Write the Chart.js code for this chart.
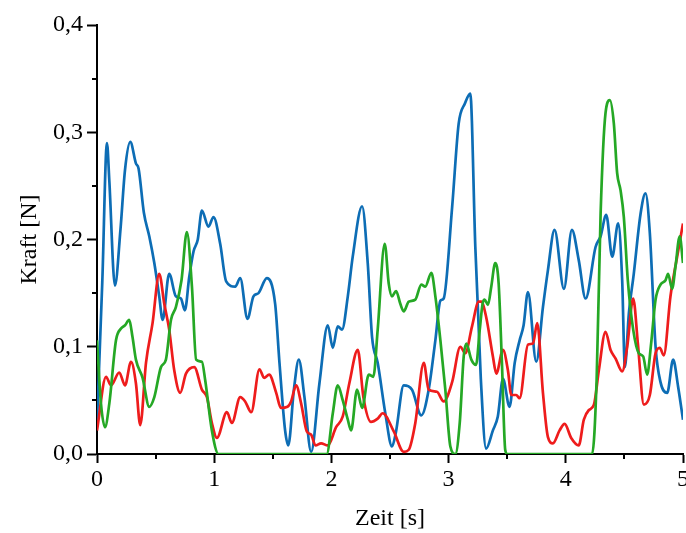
<!DOCTYPE html>
<html>
<head>
<meta charset="utf-8">
<script src="https://cdn.jsdelivr.net/npm/chart.js@4"></script>
<style>
  html, body { margin: 0; padding: 0; background: #fff; overflow: hidden; }
  #wrap { width: 686px; height: 533px; overflow: hidden; }
</style>
</head>
<body>
<div id="wrap"><canvas id="chart" width="700" height="533"></canvas></div>
<script>
// Zeit [s] / Kraft [N]
const blueTime = [0, 0.045, 0.085, 0.105, 0.153, 0.2, 0.239, 0.284, 0.332, 0.355, 0.4, 0.446, 0.489, 0.531, 0.56, 0.616, 0.673, 0.716, 0.75, 0.787, 0.824, 0.86, 0.895, 0.951, 0.994, 1.051, 1.102, 1.179, 1.222, 1.284, 1.335, 1.378, 1.449, 1.52, 1.557, 1.605, 1.632, 1.68, 1.722, 1.77, 1.827, 1.898, 1.969, 2.012, 2.054, 2.091, 2.14, 2.182, 2.262, 2.31, 2.347, 2.395, 2.46, 2.517, 2.55, 2.617, 2.688, 2.767, 2.83, 2.887, 2.93, 2.958, 3.03, 3.086, 3.14, 3.185, 3.228, 3.275, 3.32, 3.378, 3.42, 3.464, 3.52, 3.564, 3.606, 3.64, 3.677, 3.748, 3.805, 3.847, 3.904, 3.984, 4.052, 4.11, 4.169, 4.254, 4.297, 4.345, 4.396, 4.447, 4.481, 4.504, 4.538, 4.58, 4.638, 4.68, 4.717, 4.766, 4.808, 4.865, 4.916, 4.958, 5.0];
const blueForce = [0.030, 0.16, 0.290, 0.255, 0.157, 0.209, 0.265, 0.291, 0.271, 0.266, 0.225, 0.203, 0.178, 0.147, 0.125, 0.168, 0.147, 0.145, 0.134, 0.165, 0.189, 0.2, 0.227, 0.212, 0.221, 0.196, 0.161, 0.156, 0.164, 0.126, 0.147, 0.150, 0.164, 0.140, 0.085, 0.022, 0.008, 0.06, 0.088, 0.053, 0.002, 0.066, 0.120, 0.099, 0.119, 0.116, 0.147, 0.184, 0.231, 0.178, 0.109, 0.085, 0.038, 0.007, 0.02, 0.064, 0.060, 0.036, 0.060, 0.106, 0.143, 0.145, 0.230, 0.308, 0.327, 0.336, 0.193, 0.07, 0.005, 0.022, 0.035, 0.070, 0.044, 0.085, 0.106, 0.12, 0.151, 0.086, 0.137, 0.171, 0.209, 0.154, 0.209, 0.181, 0.145, 0.193, 0.203, 0.223, 0.184, 0.215, 0.162, 0.081, 0.131, 0.168, 0.224, 0.243, 0.206, 0.100, 0.067, 0.057, 0.088, 0.063, 0.032];

const redTime = [0, 0.077, 0.119, 0.19, 0.239, 0.29, 0.332, 0.369, 0.418, 0.474, 0.531, 0.574, 0.616, 0.659, 0.71, 0.759, 0.83, 0.895, 0.938, 0.98, 1.023, 1.108, 1.151, 1.222, 1.264, 1.316, 1.386, 1.426, 1.469, 1.529, 1.569, 1.625, 1.656, 1.699, 1.742, 1.79, 1.827, 1.864, 1.912, 1.969, 2.04, 2.097, 2.153, 2.225, 2.273, 2.338, 2.395, 2.438, 2.532, 2.617, 2.66, 2.716, 2.788, 2.83, 2.9, 2.958, 3.03, 3.1, 3.142, 3.2, 3.257, 3.279, 3.32, 3.378, 3.407, 3.464, 3.506, 3.535, 3.577, 3.606, 3.677, 3.72, 3.756, 3.805, 3.847, 3.89, 3.947, 3.99, 4.046, 4.11, 4.154, 4.197, 4.24, 4.282, 4.339, 4.382, 4.425, 4.481, 4.524, 4.575, 4.615, 4.666, 4.717, 4.766, 4.802, 4.836, 4.893, 4.95, 5.0];
const redForce = [0.022, 0.072, 0.064, 0.076, 0.064, 0.086, 0.066, 0.027, 0.085, 0.122, 0.168, 0.140, 0.116, 0.078, 0.057, 0.075, 0.081, 0.060, 0.053, 0.029, 0.015, 0.039, 0.029, 0.053, 0.049, 0.039, 0.079, 0.071, 0.074, 0.057, 0.043, 0.044, 0.049, 0.064, 0.047, 0.021, 0.018, 0.008, 0.010, 0.008, 0.025, 0.035, 0.066, 0.097, 0.053, 0.030, 0.033, 0.038, 0.021, 0.002, 0.004, 0.029, 0.085, 0.060, 0.058, 0.049, 0.067, 0.100, 0.094, 0.119, 0.142, 0.142, 0.128, 0.091, 0.075, 0.097, 0.078, 0.055, 0.055, 0.052, 0.102, 0.103, 0.122, 0.057, 0.016, 0.010, 0.022, 0.028, 0.015, 0.008, 0.032, 0.041, 0.046, 0.078, 0.114, 0.097, 0.089, 0.077, 0.100, 0.145, 0.103, 0.046, 0.055, 0.094, 0.099, 0.092, 0.147, 0.184, 0.215];

const greenTime = [0, 0.034, 0.068, 0.105, 0.162, 0.205, 0.239, 0.275, 0.303, 0.332, 0.389, 0.446, 0.489, 0.546, 0.588, 0.631, 0.673, 0.721, 0.767, 0.81, 0.846, 0.895, 0.923, 0.98, 1.037, 1.5, 1.96, 2.012, 2.054, 2.097, 2.14, 2.168, 2.219, 2.262, 2.319, 2.358, 2.395, 2.455, 2.489, 2.517, 2.552, 2.588, 2.617, 2.66, 2.716, 2.767, 2.801, 2.853, 2.887, 2.93, 2.972, 3.015, 3.057, 3.095, 3.129, 3.151, 3.194, 3.234, 3.265, 3.29, 3.308, 3.336, 3.364, 3.398, 3.427, 3.455, 3.483, 3.5, 4.225, 4.263, 4.297, 4.339, 4.376, 4.41, 4.438, 4.467, 4.495, 4.529, 4.575, 4.623, 4.66, 4.694, 4.728, 4.766, 4.808, 4.851, 4.873, 4.907, 4.936, 4.972, 5.0];
const greenForce = [0.106, 0.047, 0.025, 0.047, 0.106, 0.117, 0.120, 0.125, 0.109, 0.088, 0.071, 0.044, 0.053, 0.081, 0.088, 0.125, 0.137, 0.162, 0.207, 0.156, 0.088, 0.086, 0.069, 0.022, 0, 0, 0, 0.038, 0.064, 0.050, 0.032, 0.022, 0.060, 0.043, 0.074, 0.072, 0.116, 0.196, 0.159, 0.147, 0.152, 0.140, 0.133, 0.142, 0.144, 0.158, 0.156, 0.169, 0.147, 0.106, 0.060, 0.007, 0, 0.029, 0.091, 0.103, 0.088, 0.083, 0.115, 0.140, 0.144, 0.139, 0.156, 0.178, 0.159, 0.085, 0.004, 0, 0, 0.069, 0.224, 0.318, 0.330, 0.308, 0.262, 0.246, 0.221, 0.162, 0.116, 0.094, 0.091, 0.074, 0.103, 0.144, 0.158, 0.162, 0.168, 0.154, 0.175, 0.203, 0.178];

const xTicks = [0, 1, 2, 3, 4, 5];
const yTicks = [0, 0.1, 0.2, 0.3, 0.4];

const FONT = { family: "'Liberation Serif', 'Times New Roman', serif", size: 24 };

function toPoints(xs, ys) {
  return xs.map((x, i) => ({ x: x, y: ys[i] }));
}

function series(label, xs, ys, color) {
  return {
    label: label,
    data: toPoints(xs, ys),
    borderColor: color,
    backgroundColor: color,
    borderWidth: 2.7,
    pointRadius: 0,
    cubicInterpolationMode: 'monotone',
    fill: false,
  };
}

// small outward ticks between the labelled ones
const minorTicks = {
  id: 'minorTicks',
  afterDraw(chart) {
    const { ctx, scales: { x, y } } = chart;
    ctx.save();
    ctx.strokeStyle = '#000';
    ctx.lineWidth = 2;
    ctx.beginPath();
    for (let i = 0; i < xTicks.length - 1; i++) {
      const px = Math.round(x.getPixelForValue((xTicks[i] + xTicks[i + 1]) / 2));
      ctx.moveTo(px, y.bottom);
      ctx.lineTo(px, y.bottom + 5);
    }
    for (let i = 0; i < yTicks.length - 1; i++) {
      const py = Math.round(y.getPixelForValue((yTicks[i] + yTicks[i + 1]) / 2));
      ctx.moveTo(x.left, py);
      ctx.lineTo(x.left - 5, py);
    }
    ctx.stroke();
    ctx.restore();
  },
};

const ctx = document.getElementById('chart').getContext('2d');
new Chart(ctx, {
  type: 'line',
  data: {
    datasets: [
      series('grün', greenTime, greenForce, '#25a825'),
      series('rot', redTime, redForce, '#ee1c1c'),
      series('blau', blueTime, blueForce, '#0d6db5'),
    ],
  },
  options: {
    responsive: false,
    animation: false,
    layout: { padding: { left: 0, right: 17, top: 25, bottom: 0 } },
    plugins: {
      legend: { display: false },
      tooltip: { enabled: false },
    },
    scales: {
      x: {
        type: 'linear',
        min: 0,
        max: 5,
        afterBuildTicks: (scale) => { scale.ticks = xTicks.map((v) => ({ value: v })); },
        afterFit: (scale) => { scale.height = 79; },
        ticks: { color: '#000', font: FONT, padding: 2, maxRotation: 0, callback: (v) => String(v) },
        grid: { drawOnChartArea: false, drawTicks: true, tickLength: 9, tickWidth: 2, tickColor: '#000' },
        border: { display: true, color: '#000', width: 2 },
        title: { display: true, text: 'Zeit [s]', color: '#000', font: FONT, padding: { top: 0, bottom: 0 } },
      },
      y: {
        type: 'linear',
        min: 0,
        max: 0.4,
        afterBuildTicks: (scale) => { scale.ticks = yTicks.map((v) => ({ value: v })); },
        afterFit: (scale) => { scale.width = 97; },
        ticks: { color: '#000', font: FONT, padding: 4, callback: (v) => v.toFixed(1).replace('.', ',') },
        grid: { drawOnChartArea: false, drawTicks: true, tickLength: 10, tickWidth: 2, tickColor: '#000' },
        border: { display: true, color: '#000', width: 2 },
        title: { display: true, text: 'Kraft [N]', color: '#000', font: FONT, padding: { top: 15, bottom: 0 } },
      },
    },
  },
  plugins: [minorTicks],
});
</script>
</body>
</html>
